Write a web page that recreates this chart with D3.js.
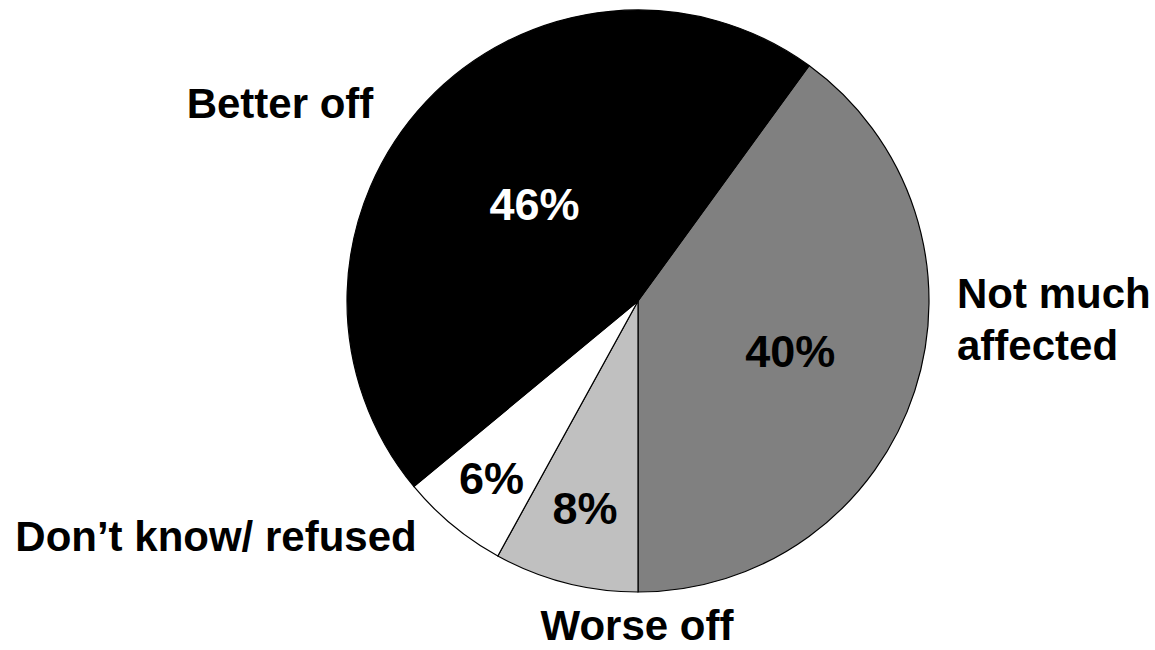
<!DOCTYPE html>
<html>
<head>
<meta charset="utf-8">
<script src="https://cdn.jsdelivr.net/npm/d3@7/dist/d3.min.js"></script>
<style>
  html, body { margin: 0; padding: 0; background: #fff; }
  svg { display: block; }
  text { font-family: "Liberation Sans", Arial, Helvetica, sans-serif; font-weight: bold; }
</style>
</head>
<body>
<svg id="chart" width="1155" height="650"></svg>
<script>
// ---- data ----
const categories = ["Not much affected", "Worse off", "Don’t know/ refused", "Better off"];
const values = [40, 8, 6, 46];
const valueLabels = ["40%", "8%", "6%", "46%"];
const outerLabelLines = [["Not much", "affected"], ["Worse off"], ["Don’t know/ refused"], ["Better off"]];

// ---- layout / style ----
const W = 1155, H = 650;
const cx = 638, cy = 301, R = 291;
const fills = ["#808080", "#c0c0c0", "#ffffff", "#000000"];
const pctColors = ["#000000", "#000000", "#000000", "#ffffff"];
const pctRadius = [160, 213, 230, 142];
const outerPos = [
  { x: 957, y: 308, anchor: "start", dy: 52 },
  { x: 637, y: 640, anchor: "middle", dy: 0 },
  { x: 216, y: 551, anchor: "middle", dy: 0 },
  { x: 280, y: 118, anchor: "middle", dy: 0 }
];

const svg = d3.select("#chart");
const g = svg.append("g").attr("transform", `translate(${cx},${cy})`);

const pie = d3.pie().sort(null).value(d => d)
  .startAngle(Math.PI * 2 * 0.1)
  .endAngle(Math.PI * 2 * 1.1);
const arcs = pie(values);
const arc = d3.arc().innerRadius(0).outerRadius(R);

g.selectAll("path.slice").data(arcs).enter().append("path")
  .attr("class", "slice")
  .attr("d", arc)
  .attr("fill", (d, i) => fills[i])
  .attr("stroke", "#000")
  .attr("stroke-width", 1.2)
  .attr("stroke-linejoin", "round");

// percent labels
g.selectAll("text.pct").data(arcs).enter().append("text")
  .attr("class", "pct")
  .attr("x", (d, i) => { const a = (d.startAngle + d.endAngle) / 2; return Math.sin(a) * pctRadius[i]; })
  .attr("y", (d, i) => { const a = (d.startAngle + d.endAngle) / 2; return -Math.cos(a) * pctRadius[i]; })
  .attr("dy", "0.36em")
  .attr("text-anchor", "middle")
  .attr("font-size", 45)
  .attr("fill", (d, i) => pctColors[i])
  .text((d, i) => valueLabels[i]);

// outer category labels
categories.forEach((c, i) => {
  const p = outerPos[i];
  const t = svg.append("text")
    .attr("x", p.x).attr("y", p.y)
    .attr("text-anchor", p.anchor)
    .attr("font-size", 42)
    .attr("fill", "#000");
  outerLabelLines[i].forEach((line, j) => {
    t.append("tspan").attr("x", p.x).attr("y", p.y + j * p.dy).text(line);
  });
});
</script>
</body>
</html>
